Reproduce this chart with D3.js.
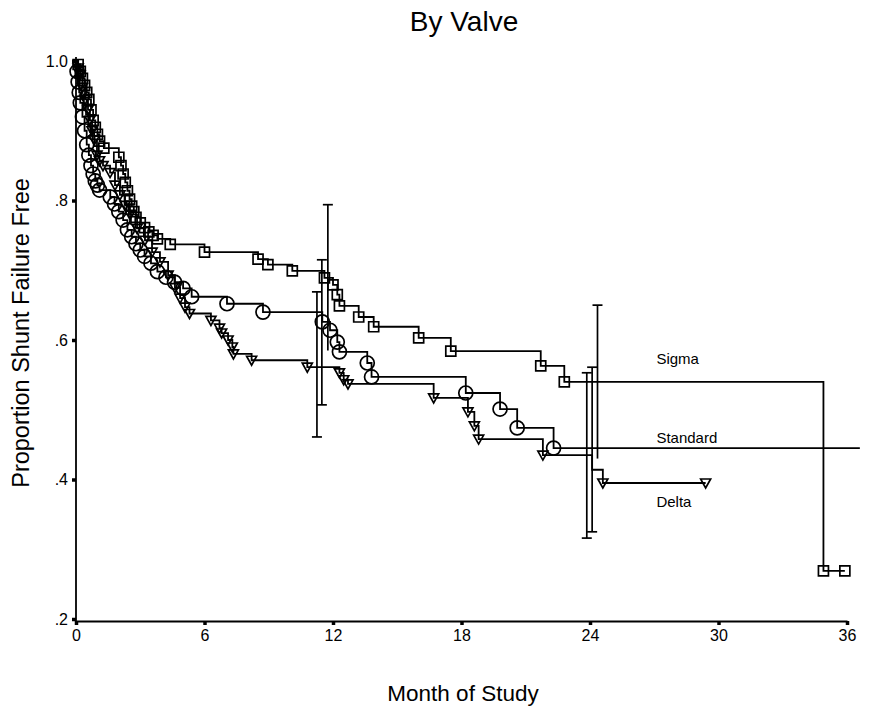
<!DOCTYPE html>
<html>
<head>
<meta charset="utf-8">
<script src="https://cdn.jsdelivr.net/npm/d3@7"></script>
<style>
  body { margin: 0; background: #fff; }
  text { font-family: Arial, "Liberation Sans", sans-serif; fill: #000; }
</style>
</head>
<body>
<svg id="chart"></svg>
<script>
// step points of each Kaplan-Meier curve (month, proportion after the step)
var sigmaTime = [0, 0.1, 0.2, 0.3, 0.4, 0.5, 0.6, 0.7, 0.8, 0.9, 1.0, 1.1, 1.3, 2.0, 2.1, 2.2, 2.3, 2.4, 2.5, 2.6, 2.7, 2.8, 3.0, 3.2, 3.4, 3.6, 3.8, 4.4, 6.0, 8.5, 8.96, 10.1, 11.6, 12.0, 12.2, 12.3, 13.2, 13.9, 16.0, 17.5, 21.7, 22.8, 34.9, 35.9];
var sigmaSurv = [1.0, 0.995, 0.985, 0.975, 0.965, 0.955, 0.945, 0.93, 0.915, 0.905, 0.895, 0.885, 0.875, 0.862, 0.85, 0.838, 0.826, 0.814, 0.802, 0.792, 0.784, 0.776, 0.768, 0.761, 0.755, 0.75, 0.745, 0.737, 0.726, 0.716, 0.708, 0.699, 0.689, 0.679, 0.665, 0.649, 0.633, 0.619, 0.603, 0.584, 0.563, 0.54, 0.269, 0.269];

var standardTime = [0, 0.05, 0.1, 0.15, 0.2, 0.3, 0.4, 0.5, 0.6, 0.7, 0.8, 0.9, 1.0, 1.1, 1.6, 1.8, 2.0, 2.2, 2.4, 2.6, 2.8, 3.0, 3.2, 3.5, 3.8, 4.2, 4.6, 5.0, 5.4, 7.05, 8.73, 11.5, 11.86, 12.2, 12.3, 13.6, 13.8, 18.2, 19.8, 20.6, 22.3, 36.6];
var standardSurv = [1.0, 0.985, 0.97, 0.955, 0.94, 0.92, 0.9, 0.88, 0.865, 0.85, 0.838, 0.828, 0.822, 0.815, 0.805, 0.795, 0.784, 0.772, 0.758, 0.748, 0.738, 0.729, 0.72, 0.71, 0.698, 0.69, 0.683, 0.674, 0.662, 0.652, 0.64, 0.626, 0.614, 0.597, 0.583, 0.567, 0.547, 0.524, 0.501, 0.474, 0.445, 0.445];

var deltaTime = [0, 0.1, 0.19, 0.3, 0.42, 0.56, 0.65, 0.75, 0.85, 0.98, 1.1, 1.26, 1.59, 1.82, 2.05, 2.29, 2.52, 2.85, 3.22, 3.55, 3.92, 4.3, 4.62, 4.86, 5.09, 5.3, 6.3, 6.7, 6.8, 7.1, 7.3, 7.35, 8.2, 10.8, 12.3, 12.5, 12.7, 16.7, 18.3, 18.6, 18.8, 21.8, 24.1, 24.6, 29.4];
var deltaSurv = [1.0, 0.99, 0.98, 0.962, 0.945, 0.93, 0.915, 0.9, 0.887, 0.865, 0.857, 0.85, 0.84, 0.822, 0.808, 0.793, 0.78, 0.76, 0.743, 0.726, 0.712, 0.693, 0.675, 0.66, 0.647, 0.638, 0.628, 0.617, 0.61, 0.6, 0.59, 0.58, 0.571, 0.561, 0.553, 0.543, 0.537, 0.517, 0.497, 0.477, 0.458, 0.435, 0.414, 0.395, 0.395];

// steps drawn without a censor mark
var standardNoMark = [0, 36.6];
var sigmaNoMark = [0];
var deltaNoMark = [0, 24.1];

// confidence bars at 12 and 24 months
var ciTime = [11.76, 11.48, 11.25, 24.35, 24.1, 23.85];
var ciLow = [0.585, 0.507, 0.461, 0.43, 0.325, 0.316];
var ciHigh = [0.794, 0.715, 0.669, 0.65, 0.561, 0.553];
var ciBottomCap = [false, true, true, false, true, true];

var xTicks = [0, 6, 12, 18, 24, 30, 36];
var yTicks = [1.0, 0.8, 0.6, 0.4, 0.2];
var yTickLabels = ["1.0", ".8", ".6", ".4", ".2"];

var seriesNames = ["Sigma", "Standard", "Delta"];
var labelTime = [27.1, 27.1, 27.1];
var labelSurv = [0.566, 0.452, 0.361];

var width = 871, height = 710;

var svg = d3.select("#chart")
  .attr("width", width)
  .attr("height", height);

var x = d3.scaleLinear().domain([0, 36]).range([76, 847]);
var y = d3.scaleLinear().domain([0.2, 1.0]).range([619, 61]);

// axes
var yAxis = svg.append("g")
  .attr("transform", "translate(76,0)")
  .call(d3.axisLeft(y).tickValues(yTicks).tickSize(4).tickSizeOuter(0)
    .tickFormat(function (d, i) { return yTickLabels[i]; }));
yAxis.selectAll("line").attr("stroke-width", 3.5);
yAxis.select(".domain").attr("stroke-width", 1.8).attr("d", "M0,57V621");
yAxis.selectAll("text").attr("x", -8).style("font-size", "16px").style("font-family", "Arial, 'Liberation Sans', sans-serif");

var xAxis = svg.append("g")
  .attr("transform", "translate(0,621)")
  .call(d3.axisBottom(x).tickValues(xTicks).tickSize(4).tickSizeOuter(0));
xAxis.selectAll("line").attr("stroke-width", 3.5);
xAxis.select(".domain").attr("stroke-width", 2);
xAxis.selectAll("text").attr("y", 9).style("font-size", "16px").style("font-family", "Arial, 'Liberation Sans', sans-serif");

// titles
svg.append("text")
  .attr("x", 464).attr("y", 31)
  .attr("text-anchor", "middle")
  .style("font-size", "28px")
  .text("By Valve");

svg.append("text")
  .attr("x", 463).attr("y", 701)
  .attr("text-anchor", "middle")
  .style("font-size", "22.5px")
  .text("Month of Study");

svg.append("text")
  .attr("transform", "translate(29,333)rotate(-90)")
  .attr("text-anchor", "middle")
  .style("font-size", "23.5px")
  .text("Proportion Shunt Failure Free");

// curves
var stepLine = d3.line()
  .x(function (d) { return x(d[0]); })
  .y(function (d) { return y(d[1]); })
  .curve(d3.curveStepAfter);

function drawCurve(times, survs, noMark, shape) {
  var pts = times.map(function (t, i) { return [t, survs[i]]; });
  svg.append("path")
    .datum(pts)
    .attr("fill", "none")
    .attr("stroke", "black")
    .attr("stroke-width", 1.8)
    .attr("d", stepLine);

  var marks = pts.filter(function (p) { return noMark.indexOf(p[0]) < 0; });
  svg.selectAll(null)
    .data(marks)
    .enter()
    .append("path")
    .attr("transform", function (d) { return "translate(" + x(d[0]) + "," + y(d[1]) + ")"; })
    .attr("d", shape)
    .attr("fill", "none")
    .attr("stroke", "black")
    .attr("stroke-width", 1.7);
}

drawCurve(sigmaTime, sigmaSurv, sigmaNoMark, "M-5,-5H5V5H-5Z");
drawCurve(standardTime, standardSurv, standardNoMark, "M-7,0A7,7 0 1,0 7,0A7,7 0 1,0 -7,0Z");
drawCurve(deltaTime, deltaSurv, deltaNoMark, "M-5,-4H5L0,5Z");

// confidence bars
ciTime.forEach(function (t, i) {
  var g = svg.append("g").attr("stroke", "black").attr("stroke-width", 1.7);
  g.append("line")
    .attr("x1", x(t)).attr("x2", x(t))
    .attr("y1", y(ciHigh[i])).attr("y2", y(ciLow[i]));
  g.append("line")
    .attr("x1", x(t) - 5).attr("x2", x(t) + 5)
    .attr("y1", y(ciHigh[i])).attr("y2", y(ciHigh[i]));
  if (ciBottomCap[i]) {
    g.append("line")
      .attr("x1", x(t) - 5).attr("x2", x(t) + 5)
      .attr("y1", y(ciLow[i])).attr("y2", y(ciLow[i]));
  }
});

// series labels
svg.selectAll(".series-label")
  .data(seriesNames)
  .enter()
  .append("text")
  .attr("class", "series-label")
  .attr("x", function (d, i) { return x(labelTime[i]); })
  .attr("y", function (d, i) { return y(labelSurv[i]); })
  .style("font-size", "15px")
  .text(function (d) { return d; });
</script>
</body>
</html>
